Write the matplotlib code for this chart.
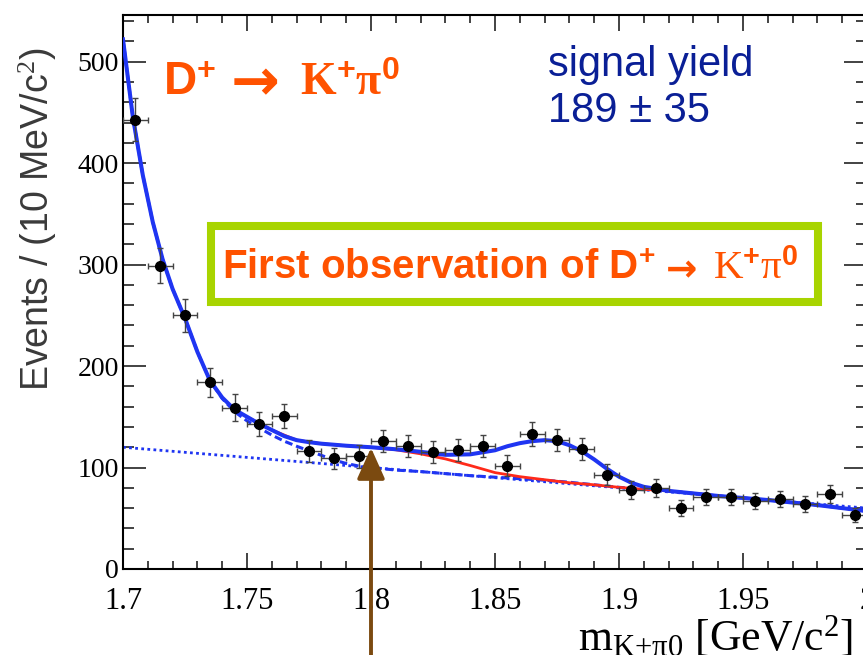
import numpy as np
import matplotlib
matplotlib.use("Agg")
import matplotlib.pyplot as plt
from matplotlib.patches import Rectangle
from matplotlib.ticker import MultipleLocator, FormatStrFormatter

# mathtext: serif for K, pi, m ; sans bold for D and the superscripts
plt.rcParams['mathtext.fontset'] = 'custom'
plt.rcParams['mathtext.rm'] = 'Liberation Serif'
plt.rcParams['mathtext.it'] = 'Liberation Serif:italic'
plt.rcParams['mathtext.bf'] = 'Liberation Serif:bold'
plt.rcParams['mathtext.sf'] = 'Liberation Sans:bold'

# --- data ---
bin_centers = [1.705, 1.715, 1.725, 1.735, 1.745, 1.755, 1.765, 1.775, 1.785, 1.795,
               1.805, 1.815, 1.825, 1.835, 1.845, 1.855, 1.865, 1.875, 1.885, 1.895,
               1.905, 1.915, 1.925, 1.935, 1.945, 1.955, 1.965, 1.975, 1.985, 1.995]
counts = [443, 299, 250, 184, 159, 143, 151, 116, 109, 111,
          126, 121, 115, 117, 121, 102, 133, 127, 118, 93,
          78, 80, 60, 71, 71, 67, 69, 64, 74, 53]
count_errors = [21, 17, 16, 14, 13, 12, 12, 11, 10, 11,
                11, 11, 11, 11, 11, 10, 12, 11, 11, 10,
                9, 9, 8, 8, 8, 8, 8, 8, 9, 7]
bin_half_width = 0.005

# total fit (blue solid)
fit_x = [1.700, 1.704, 1.708, 1.712, 1.716, 1.720, 1.725, 1.730, 1.735, 1.740,
         1.745, 1.750, 1.755, 1.760, 1.765, 1.770, 1.775, 1.780, 1.790, 1.800,
         1.810, 1.820, 1.830, 1.840, 1.845, 1.850, 1.855, 1.860, 1.865, 1.870,
         1.875, 1.880, 1.885, 1.890, 1.895, 1.900, 1.905, 1.910, 1.915, 1.920,
         1.940, 1.960, 1.980, 2.000]
fit_total = [522, 445, 388, 342, 305, 276, 247, 214, 186, 169,
             157, 150, 143, 137, 131, 127, 125, 123.5, 121.5, 120,
             118, 115.5, 112.5, 113, 115, 117, 121, 124, 126, 127,
             126, 122, 116, 108, 99, 91, 85, 81, 79, 77,
             72, 68, 63, 57]

# full background (red)
bkg_x = [1.750, 1.760, 1.770, 1.780, 1.790, 1.800, 1.810, 1.820, 1.830, 1.840,
         1.850, 1.860, 1.870, 1.880, 1.890, 1.900, 1.910, 1.920, 1.940, 1.960,
         1.980, 2.000]
bkg_total = [150, 137, 127, 123.5, 121.5, 120, 117.5, 113.5, 108.5, 102,
             95, 91, 88, 85, 83, 80.5, 78.5, 77, 72, 68,
             63, 57]

# combinatorial background (blue dashed)
comb_x = [1.700, 1.704, 1.708, 1.712, 1.716, 1.720, 1.725, 1.730, 1.735, 1.740,
          1.745, 1.750, 1.755, 1.760, 1.765, 1.770, 1.775, 1.780, 1.785, 1.790,
          1.795, 1.800, 1.810, 1.820, 1.830, 1.840, 1.850, 1.860, 1.870, 1.880,
          1.890, 1.900, 1.920, 1.940, 1.960, 1.980, 2.000]
comb_bkg = [522, 445, 388, 342, 305, 276, 247, 214, 186, 168,
            155, 146, 139, 132, 126, 121, 116.5, 112, 107.5, 104,
            101.5, 100, 97.5, 96, 94, 92, 90.5, 89, 87.5, 85.5,
            83, 80.5, 77, 72, 68, 63, 57]

# linear part (blue dotted)
lin_x = [1.700, 2.000]
lin_bkg = [120, 60]

fig = plt.figure(figsize=(8.63, 6.55), dpi=100)
W, H = 863.0, 655.0
ax = fig.add_axes([123 / W, 1 - 569 / H, (867 - 123) / W, (569 - 15) / H])

blue = '#1f35f2'
ax.plot(lin_x, lin_bkg, color=blue, lw=2.0, ls=(0, (1, 1.2)), zorder=2)
ax.plot(comb_x, comb_bkg, color=blue, lw=2.2, ls=(0, (2.5, 1.3)), zorder=3)
ax.plot(bkg_x, bkg_total, color='#ff2a1a', lw=2.0, zorder=4)
ax.plot(fit_x, fit_total, color=blue, lw=2.9, zorder=5)

ax.errorbar(bin_centers, counts, yerr=count_errors, xerr=bin_half_width,
            fmt='o', color='black', ms=7, ecolor='#444444', elinewidth=1.0,
            capsize=2.2, capthick=1.0, zorder=6)

ax.set_xlim(1.7, 2.0)
ax.set_ylim(0, 546)

ax.xaxis.set_major_locator(MultipleLocator(0.05))
ax.xaxis.set_minor_locator(MultipleLocator(0.01))
ax.yaxis.set_major_locator(MultipleLocator(100))
ax.yaxis.set_minor_locator(MultipleLocator(20))
ax.xaxis.set_major_formatter(FormatStrFormatter('%g'))

ax.tick_params(which='both', direction='in', top=True, right=True, width=1.2, color='#222222')
ax.tick_params(axis='y', which='major', length=16.5, pad=3)
ax.tick_params(axis='y', which='minor', length=8)
ax.tick_params(axis='x', which='major', length=11.5, pad=13)
ax.tick_params(axis='x', which='minor', length=6)
for lab in ax.get_xticklabels():
    lab.set_fontfamily('Liberation Serif')
    lab.set_fontsize(22)
for lab in ax.get_yticklabels():
    lab.set_fontfamily('Liberation Serif')
    lab.set_fontsize(20)
for sp in ax.spines.values():
    sp.set_linewidth(1.5)

# axis titles
fig.text(38 / W, 1 - 219 / H, r'Events / (10 MeV/c$^{2}$)', rotation=90,
         ha='center', va='center', fontsize=27, color='#3a3a3a', family='Liberation Sans')
fig.text(853 / W, 1 - 650 / H, r'$\mathrm{m}_{\mathrm{K{+}\pi{0}}}$ [GeV/c$^{2}$]',
         ha='right', va='baseline', fontsize=31.5, family='Liberation Serif')

orange = '#ff5200'
# title: D+ -> K+ pi0 (sans D, bold arrow, serif K and pi)
fig.text(163 / W, 1 - 95 / H, r'$\mathsf{D}^{\mathsf{+}}$',
         ha='left', va='baseline', fontsize=33, color=orange)
fig.text(231 / W, 1 - 100 / H, '\u2192', ha='left', va='baseline',
         fontsize=42, color=orange, family='DejaVu Sans', weight='bold')
fig.text(300 / W, 1 - 95 / H, r'$\mathbf{K}^{\mathsf{+}}\mathbf{\pi}^{\mathsf{0}}$',
         ha='left', va='baseline', fontsize=33, color=orange)

navy = '#0a1f96'
fig.text(548 / W, 1 - 76 / H, 'signal yield', ha='left', va='baseline',
         fontsize=30, color=navy, family='Liberation Sans')
fig.text(548 / W, 1 - 122 / H, '189 \u00b1 35', ha='left', va='baseline',
         fontsize=30, color=navy, family='Liberation Sans')

# green box
box = Rectangle((211 / W, 1 - 302 / H), (818 - 211) / W, (302 - 226) / H,
                transform=fig.transFigure, facecolor='white', edgecolor='#a8d400',
                lw=5.8, zorder=7)
fig.patches.append(box)
fig.text(222 / W, 1 - 279 / H, r'First observation of $\mathsf{D}^{\mathsf{+}}$',
         ha='left', va='baseline', fontsize=29, color=orange,
         family='Liberation Sans', weight='bold', zorder=8)
fig.text(666 / W, 1 - 281 / H, '\u2192', ha='left', va='baseline',
         fontsize=27, color=orange, family='DejaVu Sans', weight='bold', zorder=8)
fig.text(713 / W, 1 - 279 / H, r'$\mathrm{K}^{\mathsf{+}}\mathrm{\pi}^{\mathsf{0}}$',
         ha='left', va='baseline', fontsize=29.5, color=orange, zorder=8)

# brown arrow from the bottom edge up to the fit at 1.8
ax.annotate('', xy=(1.8, 119.5), xytext=(1.8, 0), xycoords='data',
            textcoords=('data', 'figure fraction'),
            arrowprops=dict(arrowstyle='-|>,head_length=1.9,head_width=0.85',
                            mutation_scale=10, color='#7b4a10', lw=2.8,
                            shrinkA=0, shrinkB=0),
            annotation_clip=False, zorder=9)

fig.savefig('out.png', dpi=100)
